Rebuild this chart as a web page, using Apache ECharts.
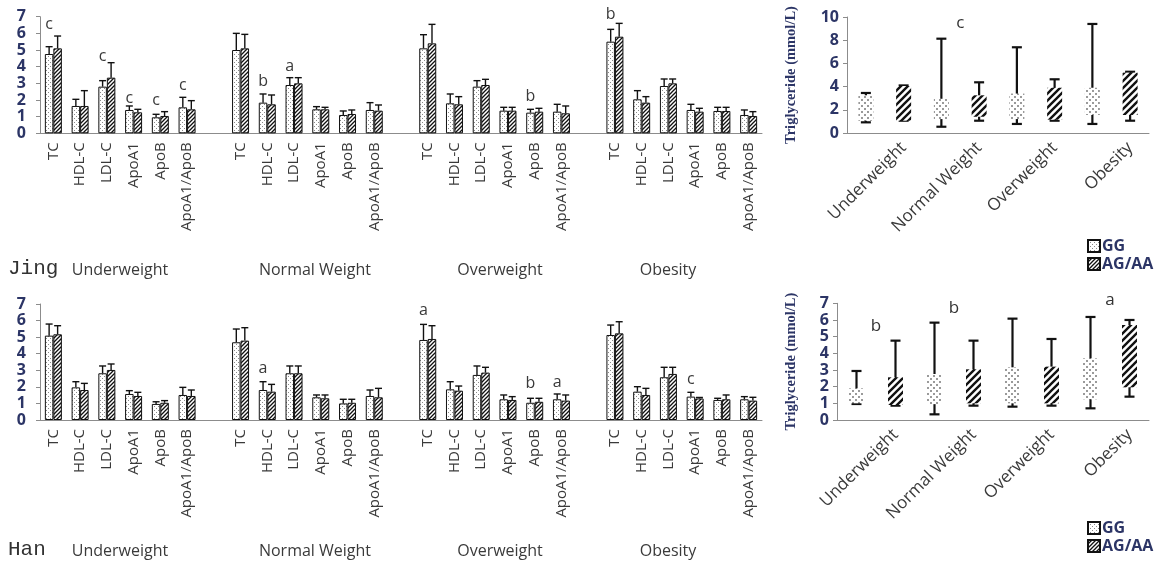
<!DOCTYPE html>
<html><head><meta charset="utf-8">
<script src="https://cdn.jsdelivr.net/npm/echarts@6/dist/echarts.min.js"></script>
<style>html,body{margin:0;padding:0;background:#fff}#c{width:1158px;height:565px}</style>
</head><body><div id="c"></div>
<script>
// ---------- DATA ----------
const lipidNames = ['TC','HDL-C','LDL-C','ApoA1','ApoB','ApoA1/ApoB'];
const weightGroups = ['Underweight','Normal Weight','Overweight','Obesity'];
const genotypes = ['GG','AG/AA'];

// Jing: mean values per weight group (rows) and lipid (cols)
const jingGG   = [[4.76,1.64,2.80,1.40,0.96,1.56],[5.00,1.84,2.90,1.44,1.10,1.40],[5.10,1.80,2.80,1.36,1.24,1.30],[5.50,2.04,2.84,1.40,1.34,1.10]];
const jingGGsd = [[0.44,0.40,0.36,0.24,0.18,0.60],[1.00,0.52,0.44,0.16,0.24,0.44],[0.82,0.56,0.36,0.20,0.20,0.44],[0.74,0.52,0.42,0.34,0.22,0.30]];
const jingAG   = [[5.10,1.64,3.34,1.26,1.04,1.44],[5.10,1.74,3.00,1.44,1.16,1.36],[5.40,1.74,2.90,1.36,1.30,1.20],[5.80,1.84,3.00,1.30,1.34,1.04]];
const jingAGsd = [[0.74,0.92,0.90,0.18,0.26,0.52],[0.84,0.56,0.34,0.12,0.24,0.34],[1.14,0.46,0.34,0.20,0.20,0.44],[0.80,0.36,0.26,0.20,0.22,0.26]];
// Han
const hanGG   = [[5.09,1.97,2.82,1.57,0.97,1.51],[4.69,1.81,2.82,1.37,1.00,1.45],[4.83,1.85,2.72,1.25,1.04,1.25],[5.13,1.71,2.58,1.41,1.21,1.25]];
const hanGGsd = [[0.70,0.34,0.44,0.20,0.13,0.46],[0.80,0.50,0.44,0.14,0.25,0.36],[0.94,0.46,0.54,0.26,0.27,0.32],[0.60,0.30,0.60,0.26,0.10,0.16]];
const hanAG   = [[5.17,1.81,3.02,1.45,1.04,1.45],[4.79,1.71,2.82,1.31,1.04,1.37],[4.89,1.77,2.86,1.21,1.10,1.17],[5.23,1.51,2.78,1.30,1.25,1.17]];
const hanAGsd = [[0.52,0.40,0.36,0.22,0.13,0.36],[0.78,0.44,0.44,0.20,0.21,0.54],[0.80,0.28,0.32,0.20,0.21,0.34],[0.70,0.40,0.40,0.06,0.26,0.20]];

// significance letters: [group, lipid, letter, height]
const jingLetters = [[0,0,'c',6.56],[0,2,'c',4.64],[0,3,'c',2.10],[0,4,'c',2.00],[0,5,'c',2.90],[1,1,'b',3.14],[1,2,'a',4.04],[2,4,'b',2.20],[3,0,'b',7.16]];
const hanLetters  = [[1,1,'a',3.12],[2,0,'a',6.60],[2,4,'b',2.21],[2,5,'a',2.25],[3,3,'c',2.45]];

// Triglyceride: [min, lower, upper, max] per weight group
const jingTgGG = [[0.92,1.05,3.25,3.45],[0.54,1.20,2.95,8.13],[0.78,1.20,3.40,7.39],[0.78,1.55,3.90,9.40]];
const jingTgAG = [[1.06,1.06,4.05,4.10],[1.06,1.40,3.25,4.37],[1.06,1.15,3.90,4.63],[1.06,1.55,5.20,5.28]];
const hanTgGG  = [[0.96,1.00,1.90,2.94],[0.34,0.95,2.76,5.84],[0.80,1.00,3.16,6.08],[0.70,1.24,3.70,6.18]];
const hanTgAG  = [[0.86,0.90,2.56,4.76],[0.86,1.00,3.04,4.76],[0.86,1.00,3.20,4.86],[1.40,1.96,5.70,6.00]];
// letters: [group, letter, height]
const jingTgLetters = [[1,'c',9.5]];
const hanTgLetters  = [[0,'b',5.64],[1,'b',6.70],[3,'a',7.16]];

const jingYTicks = {min:0,max:7,interval:1};
const tgTicksJing = {min:0,max:10,interval:2};
const tgTicksHan  = {min:0,max:7,interval:1};

// ---------- PATTERNS ----------
function dotPattern(step, size, color){
  const c=document.createElement('canvas'); c.width=step*2; c.height=step*2;
  const g=c.getContext('2d'); g.fillStyle='#fff'; g.fillRect(0,0,c.width,c.height);
  g.fillStyle=color; g.fillRect(0,0,size,size); g.fillRect(step,step,size,size);
  return {image:c, repeat:'repeat'};
}
function hatchPattern(s, lw){
  const c=document.createElement('canvas'); c.width=s; c.height=s;
  const g=c.getContext('2d'); g.fillStyle='#fff'; g.fillRect(0,0,s,s);
  g.strokeStyle='#111'; g.lineWidth=lw; g.beginPath();
  g.moveTo(-1,s+1); g.lineTo(s+1,-1);
  g.moveTo(-1,1); g.lineTo(1,-1);
  g.moveTo(s-1,s+1); g.lineTo(s+1,s-1);
  g.stroke();
  return {image:c, repeat:'repeat'};
}
const barDots = dotPattern(2,1,'#8a8a8a');
const barHatch = hatchPattern(4,1.3);
const boxDots = dotPattern(3,2,'#9a9a9a');
const boxHatch = hatchPattern(7,2.4);

// ---------- BUILD ----------
const leftCats = [];
weightGroups.forEach((g,gi)=>{ lipidNames.forEach(n=>leftCats.push(n)); if(gi<weightGroups.length-1) leftCats.push(''); });
const idxOf = (g,i)=>g*(lipidNames.length+1)+i;
function barData(arr){
  const d = leftCats.map(()=>'-');
  arr.forEach((row,g)=>row.forEach((v,i)=>{ d[idxOf(g,i)] = v; }));
  return d;
}
const BW = 8.5, CAP = 7;
const textCol = '#3a3a3a', axisCol = '#8c8c8c', numCol = '#2c3566';

function errSeries(ax, gg, ggSd, ag, agSd){
  const data=[];
  gg.forEach((row,g)=>row.forEach((v,i)=>{
    data.push([idxOf(g,i), v, v+ggSd[g][i], -1]);
    data.push([idxOf(g,i), ag[g][i], ag[g][i]+agSd[g][i], 1]);
  }));
  return {type:'custom', xAxisIndex:ax, yAxisIndex:ax, z:5, silent:true, data,
    renderItem:(p,api)=>{
      const a=api.coord([api.value(0), api.value(1)]), b=api.coord([api.value(0), api.value(2)]);
      const x=a[0]+api.value(3)*BW/2;
      const st={stroke:'#111', lineWidth:1.4};
      return {type:'group', children:[
        {type:'line', shape:{x1:x,y1:a[1],x2:x,y2:b[1]}, style:st},
        {type:'line', shape:{x1:x-CAP/2,y1:b[1],x2:x+CAP/2,y2:b[1]}, style:st}
      ]};
    }};
}
function letterSeries(ax, letters){
  return {type:'custom', xAxisIndex:ax, yAxisIndex:ax, z:6, silent:true,
    data: letters.map(l=>[idxOf(l[0],l[1]), l[3]]),
    renderItem:(p,api)=>{
      const c=api.coord([api.value(0), api.value(1)]);
      return {type:'text', x:c[0]-BW/2, y:c[1], style:{text:letters[p.dataIndex][2], fill:textCol, font:'16px "Open Sans"', align:'center', verticalAlign:'middle'}};
    }};
}
function barSeries(ax, gg, ag){
  return [
    {type:'bar', name:'GG', xAxisIndex:ax, yAxisIndex:ax, data:barData(gg), barWidth:BW, barGap:'0%',
      itemStyle:{color:barDots, borderColor:'#111', borderWidth:1}},
    {type:'bar', name:'AG/AA', xAxisIndex:ax, yAxisIndex:ax, data:barData(ag), barWidth:BW, barGap:'0%',
      itemStyle:{color:barHatch, borderColor:'#111', borderWidth:1}}
  ];
}
function boxSeries(ax, name, arr, gIdx, fill){
  return {type:'custom', name, xAxisIndex:ax, yAxisIndex:ax, z:4,
    itemStyle:{color:fill, borderColor:'#111', borderWidth:1},
    data: arr.map((r,g)=>[g*2+gIdx, r[0], r[1], r[2], r[3]]),
    renderItem:(p,api)=>{
      const cat=api.value(0);
      const pMin=api.coord([cat,api.value(1)]), pLo=api.coord([cat,api.value(2)]), pHi=api.coord([cat,api.value(3)]), pMax=api.coord([cat,api.value(4)]);
      const x=pMin[0], bw=15, cw=10;
      const st={stroke:'#111', lineWidth:2.2};
      return {type:'group', children:[
        {type:'line', shape:{x1:x,y1:pMin[1],x2:x,y2:pMax[1]}, style:st},
        {type:'line', shape:{x1:x-cw/2,y1:pMin[1],x2:x+cw/2,y2:pMin[1]}, style:st},
        {type:'line', shape:{x1:x-cw/2,y1:pMax[1],x2:x+cw/2,y2:pMax[1]}, style:st},
        {type:'rect', shape:{x:x-bw/2,y:pHi[1],width:bw,height:pLo[1]-pHi[1]}, style:{fill:fill}}
      ]};
    }};
}
function tgLetterSeries(ax, letters){
  return {type:'custom', xAxisIndex:ax, yAxisIndex:ax, z:6, silent:true, clip:false,
    data: letters.map(l=>[l[0]*2, l[2]]),
    renderItem:(p,api)=>{
      const c=api.coord([api.value(0), api.value(1)]);
      const w=api.size([1,0])[0];
      return {type:'text', x:c[0]+w/2, y:c[1], style:{text:letters[p.dataIndex][1], fill:'#333', font:'17px "Open Sans"', align:'center', verticalAlign:'middle'}};
    }};
}

const tgCats = [];
weightGroups.forEach(g=>genotypes.forEach(t=>tgCats.push(g+' '+t)));

function leftX(gi){
  return {type:'category', gridIndex:gi, data:leftCats,
    axisLine:{lineStyle:{color:axisCol}}, axisTick:{length:5, lineStyle:{color:axisCol}},
    axisLabel:{interval:0, rotate:90, margin:9, color:textCol, fontSize:15, fontFamily:'Open Sans'}};
}
function leftY(gi, t){
  return {type:'value', gridIndex:gi, min:t.min, max:t.max, interval:t.interval, splitLine:{show:false},
    axisLine:{show:true, lineStyle:{color:axisCol}}, axisTick:{show:true, length:4, lineStyle:{color:axisCol}},
    axisLabel:{color:numCol, fontSize:16, fontWeight:'bold', fontFamily:'Open Sans', margin:14}};
}
function rightX(gi){
  return {type:'category', gridIndex:gi, data:tgCats,
    axisLine:{lineStyle:{color:axisCol}}, axisTick:{length:5, lineStyle:{color:axisCol}},
    axisLabel:{interval:0, rotate:45, margin:12, color:textCol, fontSize:17, fontFamily:'Open Sans',
      formatter:(v,i)=> i%2===1 ? weightGroups[(i-1)/2] : ''}};
}
function rightY(gi, t, gap){
  return {type:'value', gridIndex:gi, min:t.min, max:t.max, interval:t.interval, splitLine:{show:false},
    name:'Triglyceride (mmol/L)', nameLocation:'middle', nameGap:gap, nameRotate:90,
    nameTextStyle:{fontFamily:'Liberation Serif', fontSize:14.5, fontWeight:'bold', color:numCol},
    axisLine:{show:true, lineStyle:{color:axisCol}}, axisTick:{show:true, length:4, lineStyle:{color:axisCol}},
    axisLabel:{color:numCol, fontSize:16, fontWeight:'bold', fontFamily:'Open Sans', margin:8}};
}

const groupLabelX = [120, 315, 500, 668];
const graphics = [];
[[268,'Jing'],[549,'Han']].forEach(([y,name])=>{
  graphics.push({type:'text', x:8, y:y, style:{text:name, font:'21px "Liberation Mono"', fill:'#333', align:'left', verticalAlign:'middle'}});
  weightGroups.forEach((g,i)=>graphics.push({type:'text', x:groupLabelX[i], y:y+2, style:{text:g, font:'16px "Open Sans"', fill:textCol, align:'center', verticalAlign:'middle'}}));
});

const legendBase = {orient:'vertical', left:1082, itemWidth:12, itemHeight:12, itemGap:2, icon:'rect',
  textStyle:{fontSize:16, fontWeight:'bold', color:numCol, fontFamily:'Open Sans', padding:[0,0,0,-3]}, data:genotypes, selectedMode:false};

const option = {
  animation:false,
  backgroundColor:'#fff',
  grid:[
    {left:40, top:16.7, width:722, height:116.6},
    {left:40, top:304, width:722, height:116},
    {left:847, top:17, width:302, height:116},
    {left:837, top:303.3, width:312, height:116.7}
  ],
  xAxis:[leftX(0), leftX(1), rightX(2), rightX(3)],
  yAxis:[leftY(0,jingYTicks), leftY(1,jingYTicks), rightY(2,tgTicksJing,48), rightY(3,tgTicksHan,38)],
  legend:[Object.assign({top:233}, legendBase), Object.assign({top:515}, legendBase)],
  graphic: graphics,
  series:[
    ...barSeries(0, jingGG, jingAG),
    errSeries(0, jingGG, jingGGsd, jingAG, jingAGsd),
    letterSeries(0, jingLetters),
    ...barSeries(1, hanGG, hanAG),
    errSeries(1, hanGG, hanGGsd, hanAG, hanAGsd),
    letterSeries(1, hanLetters),
    boxSeries(2, 'GG', jingTgGG, 0, boxDots),
    boxSeries(2, 'AG/AA', jingTgAG, 1, boxHatch),
    tgLetterSeries(2, jingTgLetters),
    boxSeries(3, 'GG', hanTgGG, 0, boxDots),
    boxSeries(3, 'AG/AA', hanTgAG, 1, boxHatch),
    tgLetterSeries(3, hanTgLetters)
  ]
};
const chart = echarts.init(document.getElementById('c'), null, {renderer:'canvas'});
chart.setOption(option);
</script>
</body></html>
